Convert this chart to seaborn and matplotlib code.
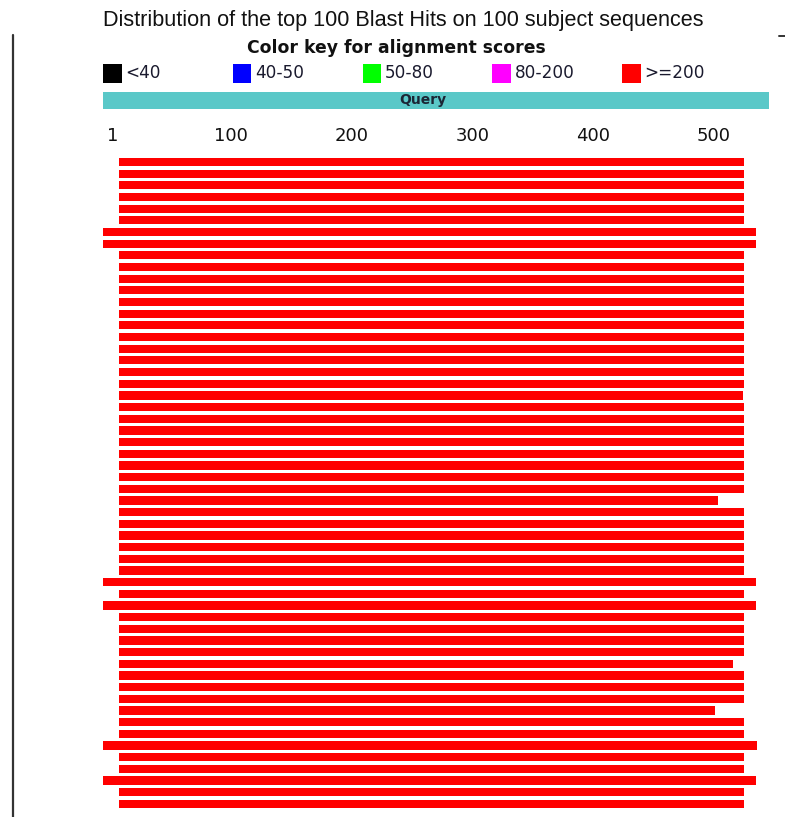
import numpy as np
import pandas as pd
import matplotlib
matplotlib.use("Agg")
import matplotlib.pyplot as plt
import matplotlib.transforms as mtransforms
from matplotlib.patches import Rectangle
from matplotlib.lines import Line2D
import seaborn as sns

# ---------------- data ----------------
hit_starts = [14, 14, 14, 14, 14, 14, 1, 1, 14, 14,
              14, 14, 14, 14, 14, 14, 14, 14, 14, 14,
              14, 14, 14, 14, 14, 14, 14, 14, 14, 14,
              14, 14, 14, 14, 14, 14, 1, 14, 1, 14,
              14, 14, 14, 14, 14, 14, 14, 14, 14, 14,
              1, 14, 14, 1, 14, 14]
hit_ends = [532, 532, 532, 532, 532, 532, 542, 542, 532, 532,
            532, 532, 532, 532, 532, 532, 532, 532, 532, 532,
            531, 532, 532, 532, 532, 532, 532, 532, 532, 511,
            532, 532, 532, 532, 532, 532, 542, 532, 542, 532,
            532, 532, 532, 523, 532, 532, 532, 508, 532, 532,
            543, 532, 532, 542, 532, 532]
hit_names = [f"hit_{i + 1}" for i in range(len(hit_starts))]
hit_score_class = [">=200"] * len(hit_starts)

query_length = 553
tick_values = [1, 100, 200, 300, 400, 500]
tick_labels = ["1", "100", "200", "300", "400", "500"]
legend_labels = ["<40", "40-50", "50-80", "80-200", ">=200"]
legend_colors = ["#000000", "#0000ff", "#00ff00", "#ff00ff", "#ff0000"]

title_text = "Distribution of the top 100 Blast Hits on 100 subject sequences"
key_title = "Color key for alignment scores"

# ---------------- figure ----------------
W, H = 785, 817
DPI = 100
sns.set_style("white")
plt.rcParams["font.family"] = ["DejaVu Sans"]

fig = plt.figure(figsize=(W / DPI, H / DPI), dpi=DPI)
fig.patch.set_facecolor("white")


def fx(px):
    return px / W


def fy(py):
    return 1 - py / H


# main hits axes
ax = fig.add_axes([fx(103), fy(816), 666 / W, (816 - 150) / H])
df = pd.DataFrame({
    "hit": hit_names,
    "start": hit_starts,
    "end": hit_ends,
    "score": hit_score_class,
})
df["length"] = df["end"] - df["start"] + 1
color_map = dict(zip(legend_labels, legend_colors))
sns.barplot(data=df, x="length", y="hit", order=hit_names, orient="h",
            color=color_map[">=200"], width=0.7, errorbar=None,
            left=(df["start"] - 1).to_numpy(), linewidth=0, saturation=1,
            ax=ax)
ax.set_xlim(0, query_length)
ax.set_ylim(56.04, -1.03)
ax.set_axis_off()

# query axes
axq = fig.add_axes([fx(103), fy(108.5), 666 / W, 16.5 / H])
axq.barh([0], [query_length], left=0, height=1.0, color="#5ac8c8", linewidth=0)
axq.set_xlim(0, query_length)
axq.set_ylim(-0.5, 0.5)
axq.set_yticks([])
for s in axq.spines.values():
    s.set_visible(False)
axq.set_xticks(tick_values)
axq.set_xticklabels(tick_labels)
axq.tick_params(axis="x", direction="in", length=3, width=1.2, color="white",
                pad=13, labelsize=13, labelcolor="#111111")
off_lab = mtransforms.ScaledTranslation(8 / DPI, 0, fig.dpi_scale_trans)
off_tick = mtransforms.ScaledTranslation(3 / DPI, 0, fig.dpi_scale_trans)
for t in axq.xaxis.get_major_ticks():
    t.label1.set_transform(t.label1.get_transform() + off_lab)
    t.tick1line.set_transform(t.tick1line.get_transform() + off_tick)
axq.text(0.48, 0.5, "Query", transform=axq.transAxes, ha="center", va="center",
         fontsize=10, fontweight="bold", color="#1b2635")

# header texts
t_title = fig.text(fx(103), fy(26), title_text, ha="left", va="baseline",
                   fontsize=16, family=["Liberation Sans", "DejaVu Sans"],
                   color="#111111")
t_key = fig.text(fx(396), fy(53), key_title, ha="center", va="baseline",
                 fontsize=11.8, fontweight="bold", color="#111111")

# legend
for i, (lab, col) in enumerate(zip(legend_labels, legend_colors)):
    x0 = 103 + i * 129.8
    fig.add_artist(Rectangle((fx(x0), fy(82.5)), 18.5 / W, 18.5 / H,
                             transform=fig.transFigure, facecolor=col,
                             edgecolor="none"))
    fig.text(fx(x0 + 22), fy(73.5), lab, ha="left", va="center",
             fontsize=12.2, color="#1a1a2e")

# page decorations
fig.add_artist(Line2D([fx(12.5), fx(12.5)], [fy(35), fy(817)],
                      transform=fig.transFigure, color="#333333", lw=1.6))
fig.add_artist(Line2D([fx(779), fx(785)], [fy(36), fy(36)],
                      transform=fig.transFigure, color="#333333", lw=1.4))

# fit title widths to the reference
fig.canvas.draw()
r = fig.canvas.get_renderer()
for t, target in [(t_title, 604), (t_key, 297)]:
    w = t.get_window_extent(r).width
    t.set_fontsize(t.get_fontsize() * target / w)

fig.savefig("out.png", dpi=DPI, facecolor="white")
